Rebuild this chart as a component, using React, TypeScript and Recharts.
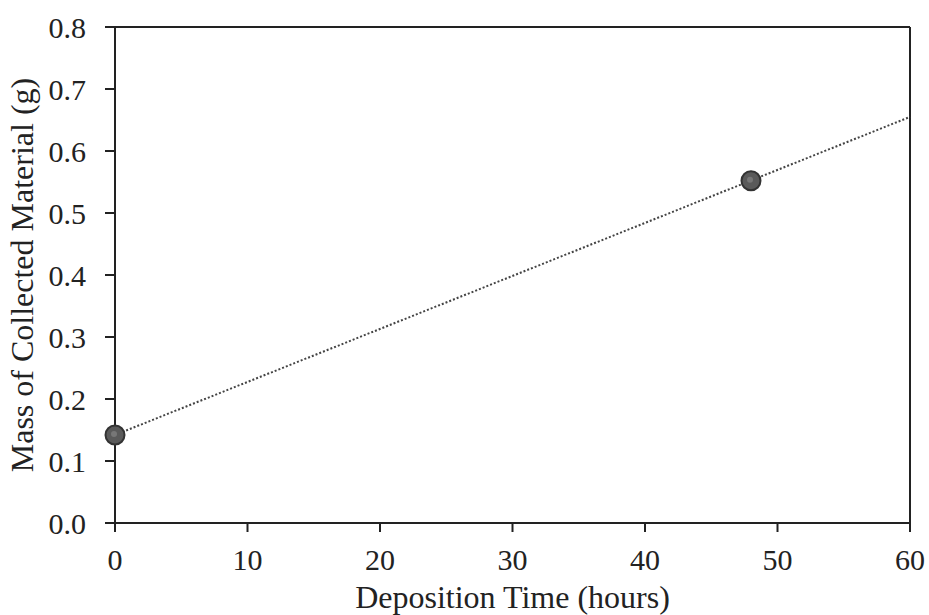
import React from 'react';
import { ScatterChart, Scatter, XAxis, YAxis, ReferenceLine } from 'recharts';

const hours = [0, 48];
const mass = [0.142, 0.552];
const trendHours = [0, 60];
const trendMass = [0.142, 0.655];
const xTicks = [0, 10, 20, 30, 40, 50, 60];
const yTicks = [0, 0.1, 0.2, 0.3, 0.4, 0.5, 0.6, 0.7, 0.8];

const points = hours.map((h, i) => ({ x: h, y: mass[i] }));
const trend = trendHours.map((h, i) => ({ x: h, y: trendMass[i] }));

const FONT = '"Liberation Serif", "Times New Roman", serif';
const tickStyle = { fontFamily: FONT, fontSize: 30, fill: '#222' };
const labelStyle = { fontFamily: FONT, fontSize: 32, fill: '#222' };

const Dot = (props: any) => {
  const { cx, cy } = props;
  return (
    <g>
      <circle cx={cx} cy={cy} r={9.5} fill="#5a5a5a" stroke="#333" strokeWidth={2} />
      <circle cx={cx - 1} cy={cy - 1} r={3} fill="#777" />
    </g>
  );
};

export default function App() {
  return (
    <div style={{ position: 'absolute', left: 0, top: 0, background: '#fff' }}>
      <ScatterChart width={929} height={615} margin={{ top: 27, right: 19, bottom: 0, left: 0 }}>
        <XAxis
          type="number"
          dataKey="x"
          domain={[0, 60]}
          ticks={xTicks}
          interval={0}
          height={92}
          tickSize={9}
          tickMargin={17}
          stroke="#222"
          strokeWidth={2}
          tick={tickStyle}
          label={{ value: 'Deposition Time (hours)', position: 'insideBottom', offset: 7, style: labelStyle }}
        />
        <YAxis
          type="number"
          dataKey="y"
          domain={[0, 0.8]}
          ticks={yTicks}
          interval={0}
          width={115}
          tickSize={10}
          tickMargin={19}
          stroke="#222"
          strokeWidth={2}
          tick={tickStyle}
          tickFormatter={(v: number) => v.toFixed(1)}
          label={{ value: 'Mass of Collected Material (g)', angle: -90, position: 'insideLeft', offset: 22, style: { ...labelStyle, textAnchor: 'middle' } }}
        />
        <ReferenceLine y={0.8} stroke="#222" strokeWidth={2} />
        <ReferenceLine x={60} stroke="#222" strokeWidth={2} />
        <Scatter
          data={trend}
          line={{ stroke: '#444', strokeWidth: 2, strokeDasharray: '2 2' }}
          shape={() => null}
          isAnimationActive={false}
        />
        <Scatter data={points} shape={<Dot />} isAnimationActive={false} />
      </ScatterChart>
    </div>
  );
}
